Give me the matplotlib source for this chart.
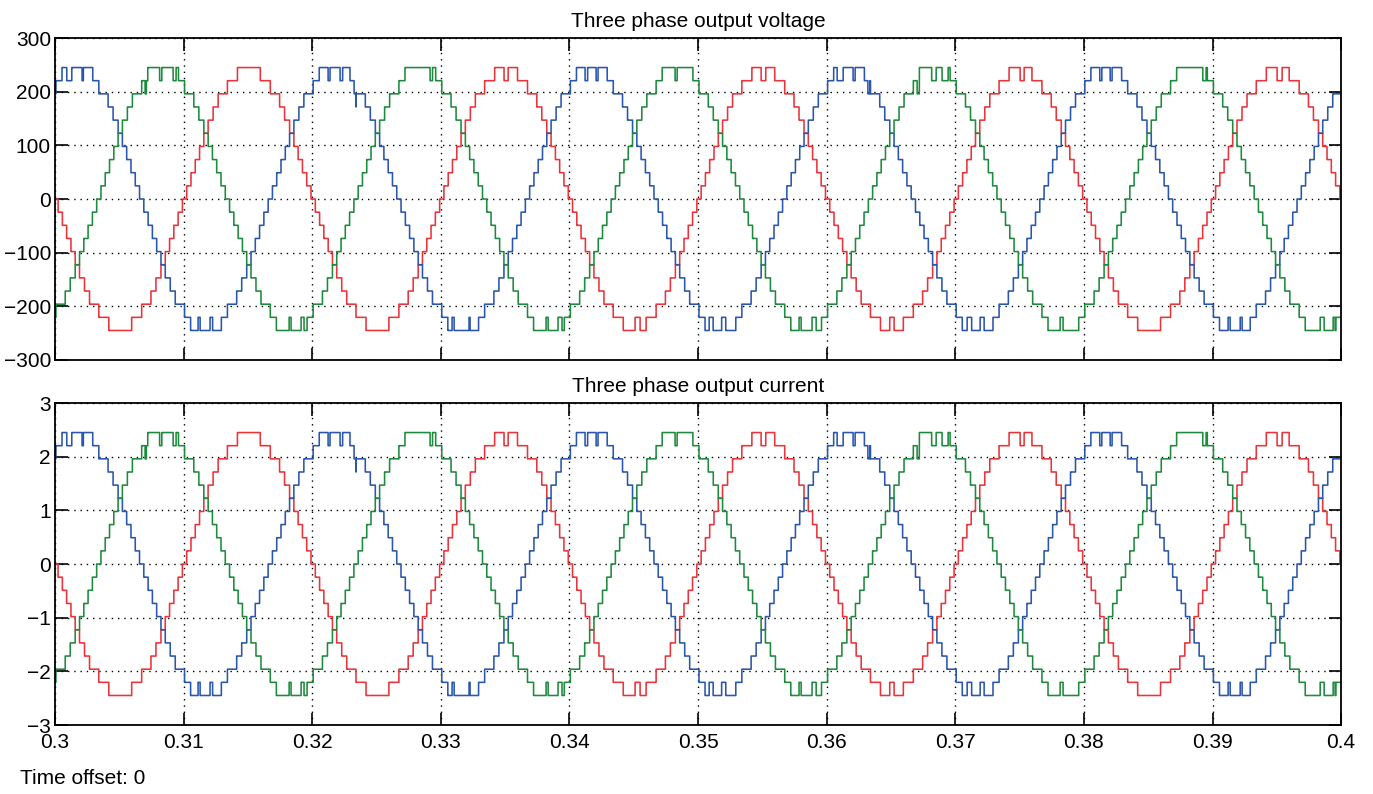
import numpy as np
import matplotlib
matplotlib.use('Agg')
import matplotlib.pyplot as plt

plt.rcParams['font.family'] = ['Liberation Sans', 'DejaVu Sans']

# time window and supply
t_start, t_stop = 0.3, 0.4
f_line = 50.0
lag_deg = 1.2

# level size of the 21-level staircase
v_step = 24.5
i_step = 0.245

# switching angles (deg) of the first nine levels within a quarter cycle
step_angles = [3, 9, 15, 21, 27, 33, 40, 47, 60]
# angle of the top level differs per phase
top_angle = {'a': 74.0, 'b': 68.5, 'c': 68.5}

# phase shift (deg) of each phase
phases = ['a', 'b', 'c']
shift = {'a': 0.0, 'b': -120.0, 'c': 120.0}
colors = {'a': '#e8343a', 'b': '#2a56ad', 'c': '#1e8a3e'}

# short notches (ms after t_start) where a phase drops one level
notches = {
    'a': [(34.91, 35.23), (45.10, 45.49), (54.90, 55.26), (64.90, 65.24),
          (75.04, 75.35), (95.02, 95.41)],
    'b': [(0.91, 1.30), (2.10, 2.20), (11.12, 11.28), (12.05, 12.25),
          (21.23, 21.38), (22.16, 22.36), (23.25, 23.41), (30.87, 31.03),
          (32.19, 32.27), (41.21, 41.41), (42.07, 42.22), (50.86, 51.17),
          (51.83, 52.15), (60.81, 61.28), (62.05, 62.21), (63.20, 63.35),
          (70.92, 71.27), (71.93, 72.24), (81.23, 81.39), (82.04, 82.19),
          (91.21, 91.37), (92.15, 92.30)],
    'c': [(7.00, 7.10), (8.13, 8.30), (9.18, 9.41), (18.20, 18.35),
          (19.13, 19.36), (29.16, 29.35), (38.18, 38.34), (39.11, 39.42),
          (48.21, 48.37), (57.85, 58.01), (58.86, 59.18), (67.03, 67.20),
          (68.16, 68.51), (68.97, 69.44), (78.15, 78.38), (89.24, 89.50),
          (98.37, 98.68), (99.38, 99.53)],
}

y_ticks_v = [-300, -200, -100, 0, 100, 200, 300]
y_ticks_i = [-3, -2, -1, 0, 1, 2, 3]
x_ticks = np.round(np.arange(0.30, 0.4001, 0.01), 2)
x_labels = ['0.3', '0.31', '0.32', '0.33', '0.34', '0.35', '0.36', '0.37',
            '0.38', '0.39', '0.4']


def staircase(t, ph):
    ang = np.mod(360.0 * f_line * t + shift[ph] - lag_deg, 360.0)
    sign = np.where(ang < 180.0, 1, -1)
    half = np.mod(ang, 180.0)
    fold = np.minimum(half, 180.0 - half)
    edges = step_angles + [top_angle[ph]]
    lvl = -sign * np.searchsorted(edges, fold, side='right')
    for a, b in notches[ph]:
        m = (t >= t_start + a / 1000.0) & (t < t_start + b / 1000.0)
        lvl[m] -= np.sign(lvl[m])
    return lvl


t = np.linspace(t_start, t_stop, 40001)

fig = plt.figure(figsize=(13.73, 7.94), dpi=100)
ax_v = fig.add_axes([0.0401, 0.5466, 0.9367, 0.4055])
ax_i = fig.add_axes([0.0401, 0.0869, 0.9367, 0.4055])

for ph in phases:
    lvl = staircase(t, ph)
    ax_v.plot(t, lvl * v_step, color=colors[ph], lw=1.15, drawstyle='steps-post')
    ax_i.plot(t, lvl * i_step, color=colors[ph], lw=1.15, drawstyle='steps-post')

for ax, yt, ttl in [(ax_v, y_ticks_v, 'Three phase output voltage'),
                    (ax_i, y_ticks_i, 'Three phase output current')]:
    ax.set_xlim(t_start, t_stop)
    ax.set_ylim(yt[0], yt[-1])
    ax.set_yticks(yt)
    ax.set_xticks(x_ticks)
    ax.grid(True, color='black', linestyle=(0, (1, 3.5)), linewidth=1.0)
    ax.tick_params(direction='in', length=9, width=1.2, top=True, right=True,
                   labelsize=15, pad=3)
    for sp in ax.spines.values():
        sp.set_linewidth(1.3)
    ax.set_title(ttl, fontsize=15, pad=8)

ax_v.set_xticklabels([])
ax_i.set_xticklabels(x_labels)
ax_i.tick_params(axis='x', pad=6)

fig.text(20 / 1373, 1 - 778 / 794, 'Time offset: 0', fontsize=15, va='center')

fig.savefig('out.png', dpi=100)
